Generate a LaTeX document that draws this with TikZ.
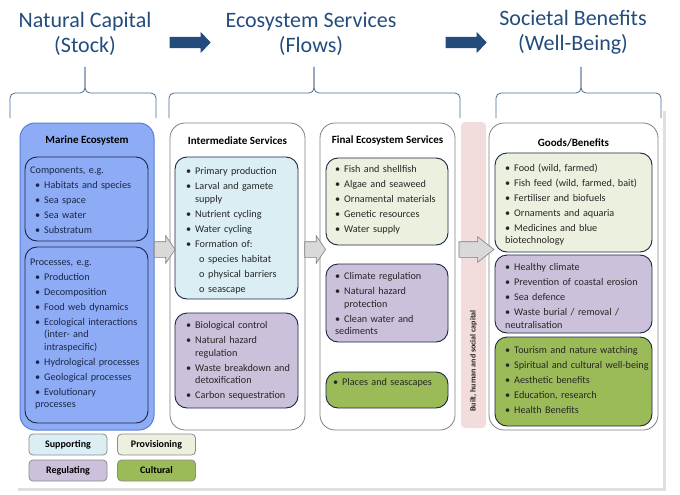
\documentclass[tikz,border=0pt]{standalone}
\usepackage{fontspec}
\setmainfont{Carlito}
\usetikzlibrary{shapes.arrows}

\definecolor{titleblue}{HTML}{234C7D}
\definecolor{bracecol}{HTML}{4D6A93}
\definecolor{marinefill}{HTML}{8EABF5}
\definecolor{marinedraw}{HTML}{5B7ED6}
\definecolor{navy}{HTML}{1B2747}
\definecolor{supfill}{HTML}{DBEEF4}
\definecolor{provfill}{HTML}{ECF0DE}
\definecolor{regfill}{HTML}{CCC1DA}
\definecolor{culfill}{HTML}{9BBB59}
\definecolor{pinkfill}{HTML}{F2DCDC}

\newcommand{\bodyfont}{\fontsize{10.2}{12.5}\selectfont}
\newcommand{\fitm}[1]{\hangindent=9pt\hangafter=1\noindent\makebox[9pt][l]{\textbullet}#1}
\newcommand{\itm}[1]{\par\fitm{#1}}
\newcommand{\sitm}[1]{\par\hangindent=22pt\hangafter=1\noindent\hspace*{13pt}\makebox[9pt][l]{o}#1}

\begin{document}
\begin{tikzpicture}[x=1pt,y=-1pt,
  head/.style={font=\fontsize{22}{25}\selectfont, text=titleblue, align=center},
  headarrow/.style={single arrow, fill=titleblue, inner sep=5.5pt, single arrow head extend=5pt,
    single arrow tip angle=93, minimum height=41},
  grayarrow/.style={single arrow, fill=black!15, draw=black!50, line width=0.6pt, inner sep=7.5pt,
    single arrow head extend=6pt},
  brace/.style={draw=bracecol, line width=0.8pt, rounded corners=5pt},
  col/.style={draw=black!50, fill=white, line width=0.8pt, rounded corners=15pt},
  marine/.style={draw=marinedraw, fill=marinefill, line width=1pt, rounded corners=15pt},
  inbox/.style={draw=navy, line width=0.9pt, rounded corners=12pt},
  sup/.style={inbox, fill=supfill},
  prov/.style={inbox, fill=provfill},
  reg/.style={inbox, fill=regfill},
  cul/.style={inbox, fill=culfill},
  legend/.style={draw=black!45, line width=0.8pt, rounded corners=4pt, minimum width=78, minimum height=21,
    font=\fontsize{10}{11}\selectfont\bfseries},
  ctitle/.style={font=\fontsize{11}{12}\selectfont\bfseries},
  list/.style={anchor=north west, inner sep=0pt, align=left, text width=165pt, font=\bodyfont,
    text=black!85, execute at begin node=\setlength{\parskip}{2.5pt}}]

\useasboundingbox (0,0) rectangle (680,495);

% panel
\fill[black!12] (18,111) rectangle (666,491);
\fill[white] (15,108) rectangle (663,488);

% headings
\node[head] (stock) at (85,34) {Natural Capital\\(Stock)};
\node[head] (flows) at (311,34) {Ecosystem Services\\(Flows)};
\node[head] (wellbeing) at (573,32) {Societal Benefits\\(Well-Being)};
\node[headarrow] (harr1) at (187.5,42.5) {};
\node[headarrow] (harr2) at (463.5,42.5) {};

\foreach \a/\m/\b in {10/85/156, 169/314/460, 496/581/661}{
  \draw[brace] (\a,118) -- (\a,93) -- (\m,93) -- (\m,67);
  \draw[brace] (\b,118) -- (\b,93) -- (\m,93) -- (\m,67);
}

% natural capital
\node[marine, minimum width=134, minimum height=307] (marine) at (87,276.5) {};
\node[ctitle] (marinetitle) at (87,141) {Marine Ecosystem};
\node[inbox, minimum width=123, minimum height=84] (comp) at (86.5,199) {};
\node[inbox, minimum width=123, minimum height=176] (proc) at (86.5,335) {};
\node[list, text=navy] (complist) at (35,166.5) {\hspace*{-5pt}Components, e.g.
  \itm{Habitats and species}
  \itm{Sea space}
  \itm{Sea water}
  \itm{Substratum}};
\node[list, text=navy] (proclist) at (35,258.5) {\hspace*{-5pt}Processes, e.g.
  \itm{Production}
  \itm{Decomposition}
  \itm{Food web dynamics}
  \itm{Ecological interactions\newline(inter- and\newline intraspecific)}
  \itm{Hydrological processes}
  \itm{Geological processes}
  \itm{Evolutionary\newline processes}};

% intermediate services
\node[col, minimum width=135, minimum height=307] (inter) at (237.5,276.5) {};
\node[ctitle] (intertitle) at (237.5,141) {Intermediate Services};
\node[sup, minimum width=123, minimum height=142] (intersup) at (236.5,228) {};
\node[reg, minimum width=123, minimum height=95] (interreg) at (236.5,360.5) {};
\node[list] (intersuplist) at (186,167.5) {\fitm{Primary production}
  \itm{Larval and gamete\newline supply}
  \itm{Nutrient cycling}
  \itm{Water cycling}
  \itm{Formation of:}
  \sitm{species habitat}
  \sitm{physical barriers}
  \sitm{seascape}};
\node[list] (interreglist) at (186,321.5) {\fitm{Biological control}
  \itm{Natural hazard\newline regulation}
  \itm{Waste breakdown and\newline detoxification}
  \itm{Carbon sequestration}};

% final ecosystem services
\node[col, minimum width=135, minimum height=307] (final) at (387.5,276.5) {};
\node[ctitle] (finaltitle) at (387.5,141) {Final Ecosystem Services};
\node[prov, minimum width=122, minimum height=87] (finalprov) at (387,201.5) {};
\node[reg, minimum width=122, minimum height=78] (finalreg) at (387,303) {};
\node[cul, minimum width=122, minimum height=36] (finalcul) at (387,390) {};
\node[list] (finalprovlist) at (335,165.5) {\fitm{Fish and shellfish}
  \itm{Algae and seaweed}
  \itm{Ornamental materials}
  \itm{Genetic resources}
  \itm{Water supply}};
\node[list] (finalreglist) at (335,272.5) {\fitm{Climate regulation}
  \itm{Natural hazard\newline protection}
  \itm{Clean water and\newline sediments}};
\node[list] (finalcullist) at (333,378.5) {\fitm{Places and seascapes}};

% built capital
\node[fill=pinkfill, rounded corners=4pt, minimum width=25, minimum height=306] (built) at (473.5,275) {};
\node[rotate=90, font=\fontsize{8}{9}\selectfont\bfseries, text=black!85] (builttext) at (473.5,361) {Built, human and social capital};

% goods and benefits
\node[col, minimum width=169, minimum height=307] (goods) at (573.5,276.5) {};
\node[ctitle] (goodstitle) at (573.5,143) {Goods/Benefits};
\node[prov, minimum width=157, minimum height=99] (goodsprov) at (573.5,202.5) {};
\node[reg, minimum width=157, minimum height=78] (goodsreg) at (573.5,294) {};
\node[cul, minimum width=157, minimum height=89] (goodscul) at (573.5,381.5) {};
\node[list] (goodsprovlist) at (505,163.5) {\fitm{Food (wild, farmed)}
  \itm{Fish feed (wild, farmed, bait)}
  \itm{Fertiliser and biofuels}
  \itm{Ornaments and aquaria}
  \itm{Medicines and blue\newline biotechnology}};
\node[list] (goodsreglist) at (505,263.5) {\fitm{Healthy climate}
  \itm{Prevention of coastal erosion}
  \itm{Sea defence}
  \itm{Waste burial / removal /\newline neutralisation}};
\node[list] (goodscullist) at (505,346.5) {\fitm{Tourism and nature watching}
  \itm{Spiritual and cultural well-being}
  \itm{Aesthetic benefits}
  \itm{Education, research}
  \itm{Health Benefits}};

% flow arrows
\node[grayarrow, minimum height=18, single arrow tip angle=112] (garr1) at (162,249.5) {};
\node[grayarrow, minimum height=18, single arrow tip angle=112] (garr2) at (312.5,249.5) {};
\node[grayarrow, minimum height=35, single arrow head extend=5pt, single arrow tip angle=76] (garr3) at (471.5,249.5) {};

% legend
\node[legend, fill=supfill] (lsup) at (68,444.5) {Supporting};
\node[legend, fill=provfill] (lprov) at (156.5,444.5) {Provisioning};
\node[legend, fill=regfill] (lreg) at (68,470.5) {Regulating};
\node[legend, fill=culfill] (lcul) at (156.5,470.5) {Cultural};

\end{tikzpicture}
\end{document}
